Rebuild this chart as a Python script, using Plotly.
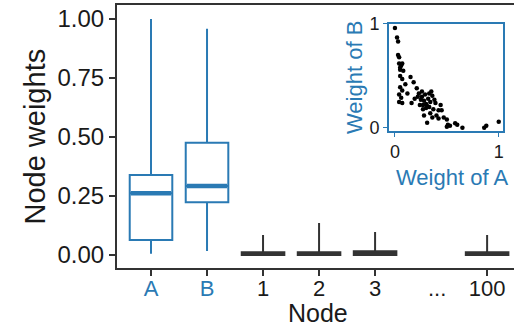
import plotly.graph_objects as go

# ---------------- data ----------------
categories = ["A", "B", "1", "2", "3", "...", "100"]
cat_pos = [0, 1, 2, 3, 4, 5, 6]

# box summary stats for A, B (blue) and nodes 1, 2, 3, 100 (grey)
ab_names = ["A", "B"]
ab_pos = [0, 1]
ab_low = [0.005, 0.017]
ab_q1 = [0.064, 0.224]
ab_med = [0.262, 0.292]
ab_q3 = [0.339, 0.475]
ab_high = [1.0, 0.958]

node_names = ["1", "2", "3", "100"]
node_pos = [2, 3, 4, 6]
node_low = [0.0, 0.0, 0.0, 0.0]
node_q1 = [0.0, 0.0, 0.0, 0.0]
node_med = [0.004, 0.004, 0.005, 0.004]
node_q3 = [0.012, 0.012, 0.016, 0.012]
node_high = [0.085, 0.136, 0.097, 0.085]

# inset scatter: weight of A vs weight of B
weight_a = [0.00, 0.02, 0.03, 0.03, 0.04, 0.04, 0.06, 0.07, 0.05, 0.05, 0.05, 0.07,
            0.15, 0.18, 0.05, 0.07, 0.04, 0.06, 0.07, 0.04, 0.12, 0.16, 0.21, 0.23,
            0.26, 0.25, 0.28, 0.30, 0.27, 0.31, 0.33, 0.36, 0.34, 0.39, 0.37, 0.42,
            0.44, 0.29, 0.32, 0.35, 0.24, 0.28, 0.31, 0.34, 0.42, 0.45, 0.50, 0.51,
            0.50, 0.53, 0.58, 0.60, 0.65, 0.86, 0.88, 1.00, 0.19, 0.22, 0.30, 0.40,
            0.26, 0.33, 0.38, 0.47, 0.10, 0.08, 0.27, 0.36]
weight_b = [0.96, 0.87, 0.83, 0.70, 0.68, 0.62, 0.60, 0.62, 0.58, 0.56, 0.50, 0.47,
            0.49, 0.44, 0.39, 0.36, 0.32, 0.29, 0.24, 0.25, 0.33, 0.24, 0.38, 0.33,
            0.30, 0.27, 0.26, 0.23, 0.22, 0.21, 0.20, 0.31, 0.25, 0.24, 0.18, 0.17,
            0.22, 0.32, 0.28, 0.35, 0.22, 0.12, 0.05, 0.14, 0.09, 0.17, 0.08, 0.03,
            0.01, 0.02, 0.045, 0.03, 0.00, 0.00, 0.02, 0.06, 0.28, 0.30, 0.19, 0.12,
            0.35, 0.33, 0.27, 0.10, 0.42, 0.55, 0.18, 0.10]

y_ticks = [0, 0.25, 0.5, 0.75, 1.0]

# ---------------- styles ----------------
BLUE = "#2a7ab4"
DARK = "#333333"
FONT = "Liberation Sans, Arial, Helvetica, sans-serif"
BOX_W = 0.76

fig = go.Figure()

for i, name in enumerate(ab_names):
    fig.add_trace(go.Box(
        x=[ab_pos[i]], q1=[ab_q1[i]], median=[ab_med[i]], q3=[ab_q3[i]],
        lowerfence=[ab_low[i]], upperfence=[ab_high[i]],
        width=BOX_W, whiskerwidth=0, boxpoints=False,
        line=dict(color=BLUE, width=2), fillcolor="rgba(255,255,255,0)",
        name=name, showlegend=False, hoverinfo="skip"))
    # thicker median line
    fig.add_trace(go.Scatter(
        x=[ab_pos[i] - BOX_W / 2 + 0.02, ab_pos[i] + BOX_W / 2 - 0.02],
        y=[ab_med[i], ab_med[i]], mode="lines",
        line=dict(color=BLUE, width=4.5), showlegend=False, hoverinfo="skip"))

for i, name in enumerate(node_names):
    fig.add_trace(go.Box(
        x=[node_pos[i]], q1=[node_q1[i]], median=[node_med[i]], q3=[node_q3[i]],
        lowerfence=[node_low[i]], upperfence=[node_high[i]],
        width=BOX_W, whiskerwidth=0, boxpoints=False,
        line=dict(color=DARK, width=2), fillcolor=DARK,
        name=name, showlegend=False, hoverinfo="skip"))

# inset scatter
fig.add_trace(go.Scatter(
    x=weight_a, y=weight_b, mode="markers", xaxis="x2", yaxis="y2",
    marker=dict(color="black", size=4.5), showlegend=False, hoverinfo="skip"))

tick_text = []
for c in categories:
    if c in ("A", "B"):
        tick_text.append(f"<span style='color:{BLUE}'>{c}</span>")
    else:
        tick_text.append(c)

x_tickvals = [p for p, c in zip(cat_pos, categories) if c != "..."]
x_ticktext = [t for t, c in zip(tick_text, categories) if c != "..."]

fig.update_layout(
    width=514, height=329,
    margin=dict(l=117, r=0, t=5, b=61),
    paper_bgcolor="white", plot_bgcolor="white",
    font=dict(family=FONT, color="#1a1a1a"),
    xaxis=dict(
        range=[-0.607, 6.48], tickmode="array", tickvals=x_tickvals, ticktext=x_ticktext,
        showgrid=False, zeroline=False, showline=True, linecolor=DARK, linewidth=2,
        mirror=True, ticks="outside", ticklen=6, tickwidth=1.5, tickcolor=DARK,
        ticklabelstandoff=-6,
        tickfont=dict(size=22, family=FONT, color="#1a1a1a"),
        automargin=False, domain=[0, 1]),
    yaxis=dict(
        range=[-0.055, 1.059], tickmode="array", tickvals=y_ticks,
        ticktext=[f"{v:.2f}" for v in y_ticks],
        showgrid=False, zeroline=False, showline=True, linecolor=DARK, linewidth=2,
        ticks="outside", ticklen=6, tickwidth=1.5, tickcolor=DARK,
        tickfont=dict(size=24, family=FONT, color="#1a1a1a"),
        automargin=False, domain=[0, 1]),
    xaxis2=dict(
        domain=[0.685, 0.972], anchor="y2", range=[-0.058, 1.04],
        tickmode="array", tickvals=[0, 1], ticktext=["0", "1"],
        showgrid=False, zeroline=False, showline=True, linecolor=BLUE, linewidth=1.5,
        mirror=True, ticks="outside", ticklen=4, tickwidth=1, tickcolor=BLUE,
        tickfont=dict(size=18, family=FONT, color="#1a1a1a"), automargin=False),
    yaxis2=dict(
        domain=[0.521, 0.928], anchor="x2", range=[-0.03, 1.0],
        tickmode="array", tickvals=[0, 1], ticktext=["0", "1"],
        showgrid=False, zeroline=False, showline=True, linecolor=BLUE, linewidth=1.5,
        mirror=True, ticks="outside", ticklen=4, tickwidth=1, tickcolor=BLUE,
        tickfont=dict(size=18, family=FONT, color="#1a1a1a"), automargin=False),
    annotations=[
        dict(text="Node weights", xref="paper", yref="paper", x=-0.209, y=0.5,
             textangle=-90, showarrow=False, xanchor="center", yanchor="middle",
             font=dict(size=29, family=FONT, color="#1a1a1a")),
        dict(text="Node", xref="paper", yref="paper", x=0.506, y=-0.233,
             showarrow=False, xanchor="center", yanchor="bottom",
             font=dict(size=25, family=FONT, color="#1a1a1a")),
        dict(text="...", xref="x", yref="paper", x=5.1, y=-0.078,
             showarrow=False, xanchor="center", yanchor="middle",
             font=dict(size=22, family=FONT, color="#1a1a1a")),
        dict(text="Weight of B", xref="paper", yref="paper", x=0.598, y=0.724,
             textangle=-90, showarrow=False, xanchor="center", yanchor="middle",
             font=dict(size=22, family=FONT, color=BLUE)),
        dict(text="Weight of A", xref="paper", yref="paper", x=0.843, y=0.346,
             showarrow=False, xanchor="center", yanchor="middle",
             font=dict(size=22, family=FONT, color=BLUE)),
    ],
)

fig.write_html("out.html", config={"displayModeBar": False},
               post_script="document.body.style.margin='0';")
